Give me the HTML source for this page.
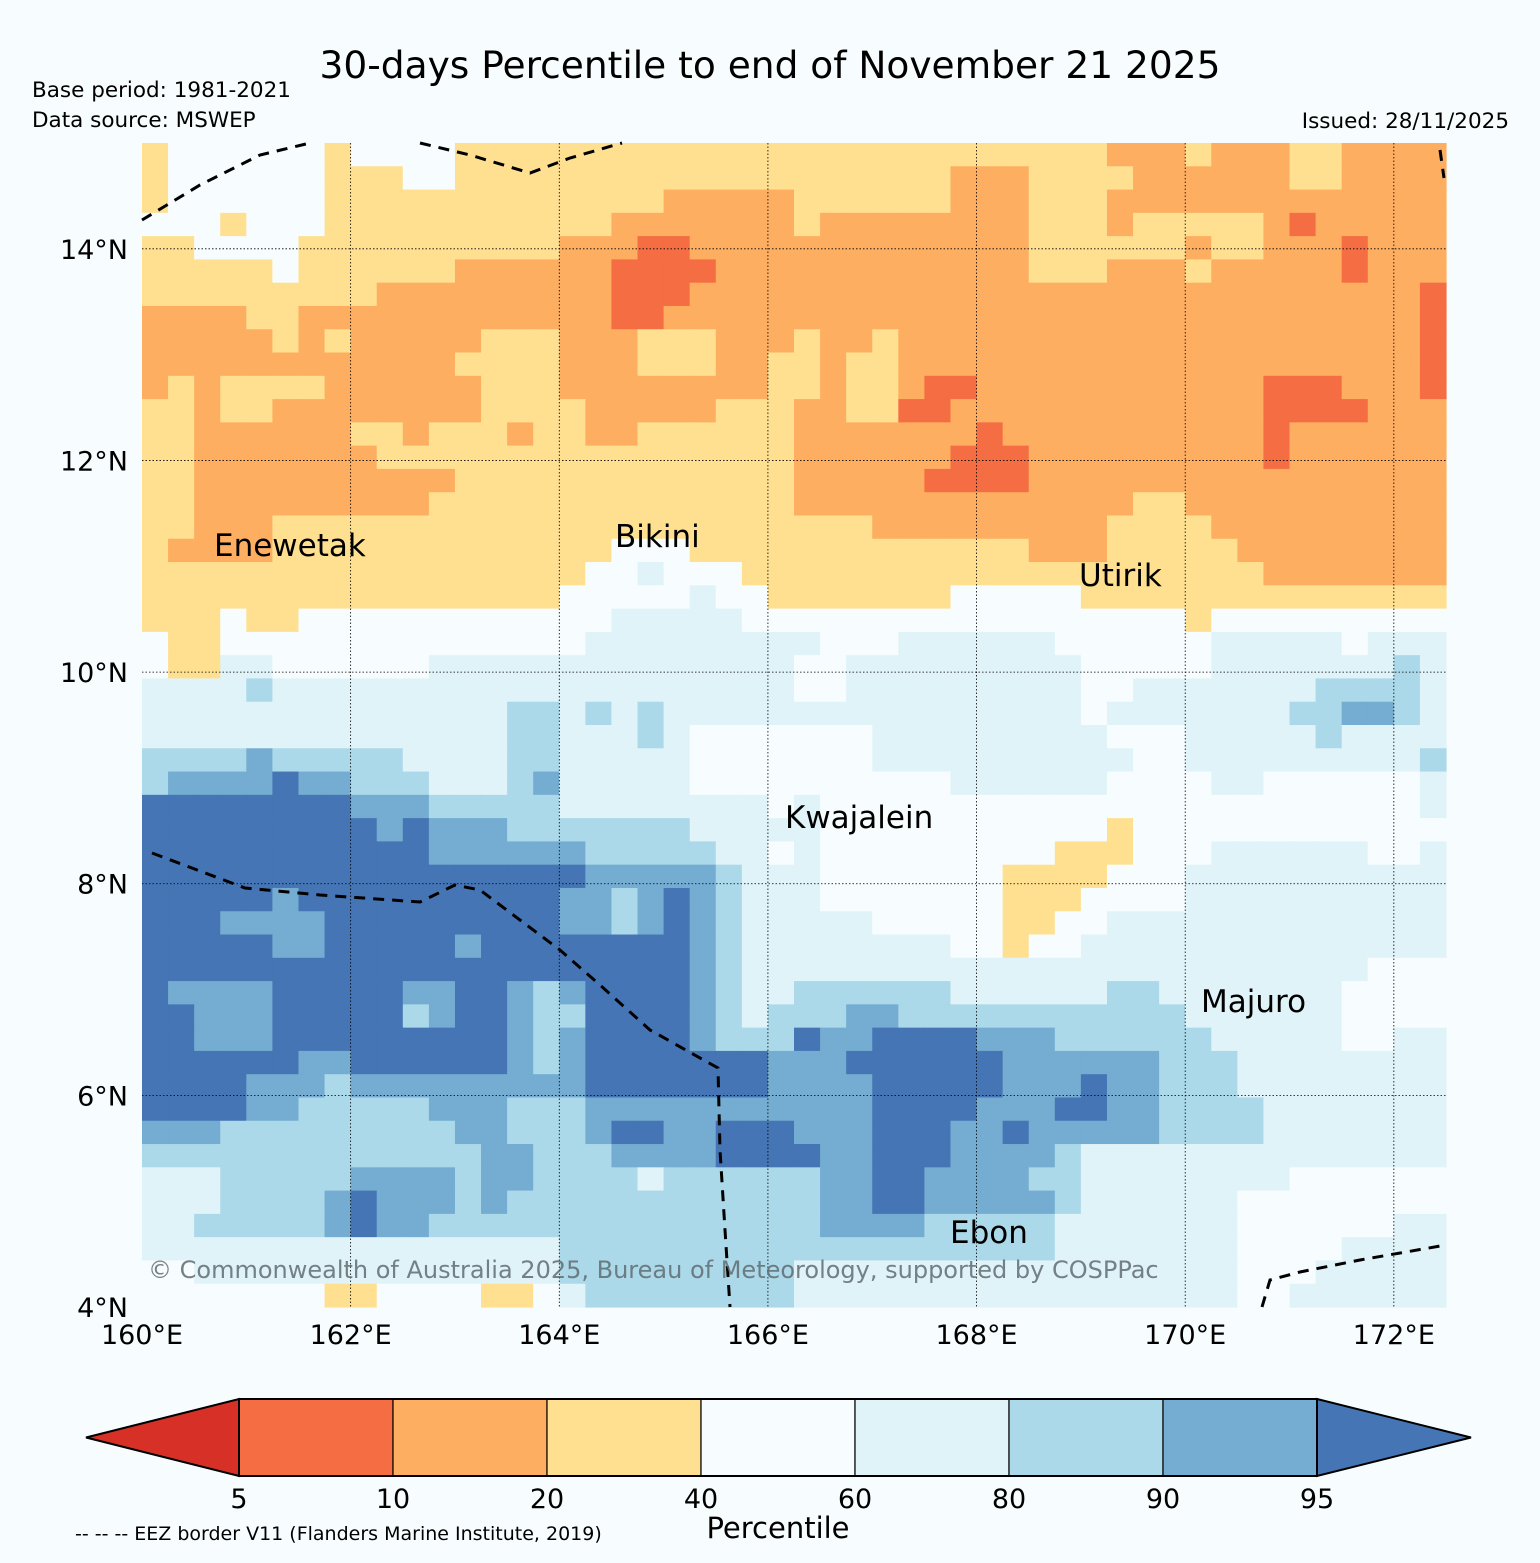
<!DOCTYPE html>
<html><head><meta charset="utf-8"><title>30-days Percentile</title>
<style>
html,body{margin:0;padding:0;background:#f7fdfe;}
svg{display:block;font-family:"DejaVu Sans","Liberation Sans",sans-serif;}
</style></head>
<body>
<svg id="chart" width="1540" height="1563" viewBox="0 0 1540 1563" xmlns="http://www.w3.org/2000/svg">
<rect x="0" y="0" width="1540" height="1563" fill="#f7fdfe"/>
<text x="770" y="78" text-anchor="middle" font-size="37.5" fill="#000">30-days Percentile to end of November 21 2025</text>
<text x="32" y="97" font-size="21.5" fill="#000">Base period: 1981-2021</text>
<text x="32" y="127" font-size="21.5" fill="#000">Data source: MSWEP</text>
<text x="1509" y="128" text-anchor="end" font-size="21.5" fill="#000">Issued: 28/11/2025</text>
<g id="cells"></g>
<g id="grid"></g>
<g id="eez" fill="none" stroke="#000" stroke-width="3" stroke-dasharray="11,8">
<polyline points="142,220 200,185 260,155 310,143"/>
<polyline points="420,143 470,155 530,173 570,158 622,143"/>
<polyline points="152,853 245,888 320,895 420,902 455,885 480,890 560,950 600,985 650,1030 718,1068 720,1150 725,1230 730,1307"/>
<polyline points="1262,1307 1270,1280 1300,1272 1360,1260 1446,1245"/>
<polyline points="1440,150 1444,178"/>
</g>
<g id="islands" font-size="31" fill="#000">
<text x="214" y="556">Enewetak</text>
<text x="615" y="547">Bikini</text>
<text x="1079" y="586">Utirik</text>
<text x="785" y="828">Kwajalein</text>
<text x="1201" y="1012">Majuro</text>
<text x="950" y="1243">Ebon</text>
</g>
<text x="148" y="1278" font-size="24" fill="#5f6b70" fill-opacity="0.85">© Commonwealth of Australia 2025, Bureau of Meteorology, supported by COSPPac</text>
<g id="ticks" font-size="27" fill="#000"></g>
<g id="cbar"></g>
<text x="778" y="1538" text-anchor="middle" font-size="29" fill="#000">Percentile</text>
<text x="75" y="1540" font-size="19" fill="#000">-- -- -- EEZ border V11 (Flanders Marine Institute, 2019)</text>
</svg>
<script>
// percentile class per grid cell (0:<5,1:5-10,2:10-20,3:20-40,4:40-60,5:60-80,6:80-90,7:90-95,8:>95)
var classRows = [
"3444444344443333333333333"+"3333333333332223222332222",
"3444444333443333333333333"+"3333332223333222222332222",
"3444444333333333333322222"+"3333332223332222222222222",
"4443444333333333332222222"+"3222222223332333332122222",
"3344443333333333222112222"+"2222222223333332332221222",
"3333343333332222221111222"+"2222222223332223222221222",
"3333333332222222221112222"+"2222222222222222222222221",
"2222332222222222221122222"+"2222222222222222222222221",
"2222232322222333222333222"+"3223222222222222222222221",
"2222222222223333222333223"+"3233222222222222222222221",
"2323333222222333222222223"+"3233211222222222221112221",
"3323322222222333322222333"+"2233112222222222221111222",
"3322222233233323322333333"+"2222222122222222221222222",
"3322222223333333333333333"+"2222221112222222221222222",
"3322222222223333333333333"+"2222211112222222222222222",
"3322222222233333333333333"+"2222222222222332222222222",
"3322233333333333333333333"+"3332222222223333222222222",
"3222233333333333334443333"+"3333333332223333322222222",
"3333333333333333344544433"+"3333333333333333332222222",
"3333333333333333444445443"+"3333334444433333333333333",
"3334334444444444445555544"+"4444444444444443444444444",
"4334444444444444455555555"+"5444555555444444555554555",
"4335544444455555555555555"+"4455555555544444555555565",
"5555655555555555555555555"+"4455555555544555555566665",
"5555555555555566565655555"+"5555555555545555555667765",
"5555555555555566555654444"+"4445555555554445555565555",
"6666766666555566555554444"+"4445555555555445555555556",
"6777787766655567555554444"+"4444445555554444554444445",
"8888888877766666555555554"+"5444444444444444444444445",
"8888888887877766666665555"+"5444444444443444444444444",
"8888888888877777766666554"+"5444444444333444555555445",
"8888888888888888877777655"+"5444444433334445555555555",
"8888878888888888776787655"+"5444444433344445555555555",
"8887777888888888776787655"+"5554444433445555555555555",
"8888877888887888888887655"+"5555554434455555555555555",
"8888888888888888888887655"+"5555555555555555555555444",
"8777788888778876788887655"+"6666665555556655555554444",
"8877788888678876688887656"+"6677666666666665555554444",
"8877788888888876788887666"+"8778888777666666555554455",
"8888887788888876788888887"+"7788888877777766655555555",
"8888777677777777788888887"+"7778888877787766655555555",
"8888776666677766677777777"+"7778888777887766665555555",
"7776666666667766678877888"+"7778887787777766665555555",
"6666666666666776667777888"+"8778887777655555555555555",
"5556666677776776666566666"+"6778877776655555555444444",
"5556666787776766666666666"+"6778877777655555544444444",
"5566666787766666666666666"+"6777766666555555544444455",
"5555555555555555666666666"+"6666666666555555544445555",
"4455555555555555666666666"+"5555555555555555544455555",
"4444444334444334566666666"+"5555555555555555544555555"
];
var classColors = ["#d73027","#f46d43","#fdae61","#fee090","#f7fdfe","#e0f3f8","#abd9e9","#74add1","#4575b4"];
var levelLabels = ["5","10","20","40","60","80","90","95"];
var lonTicks = [160,162,164,166,168,170,172];
var latTicks = [4,6,8,10,12,14];
var gridLons = [162,164,166,168,170,172];
var gridLats = [6,8,10,12,14];

var NS = "http://www.w3.org/2000/svg";
var X0 = 142, X1 = 1446, Y0 = 143, Y1 = 1307;
function lonToX(lon){ return X0 + (lon - 160) * (X1 - X0) / 12.5; }
function latToY(lat){ return Y0 + (15 - lat) * (Y1 - Y0) / 11; }

var cells = document.getElementById("cells");
var nR = classRows.length, nC = classRows[0].length;
var cw = (X1 - X0) / nC, ch = (Y1 - Y0) / nR;
for (var r = 0; r < nR; r++) {
  for (var c = 0; c < nC; c++) {
    var k = parseInt(classRows[r].charAt(c), 10);
    var rc = document.createElementNS(NS, "rect");
    rc.setAttribute("x", (X0 + c * cw).toFixed(2));
    rc.setAttribute("y", (Y0 + r * ch).toFixed(2));
    rc.setAttribute("width", (cw + 0.6).toFixed(2));
    rc.setAttribute("height", (ch + 0.6).toFixed(2));
    rc.setAttribute("fill", classColors[k]);
    
    
    cells.appendChild(rc);
  }
}

var grid = document.getElementById("grid");
gridLons.forEach(function(lon){
  var l = document.createElementNS(NS, "line");
  var x = lonToX(lon);
  l.setAttribute("x1", x); l.setAttribute("x2", x);
  l.setAttribute("y1", Y0); l.setAttribute("y2", Y1);
  l.setAttribute("stroke", "#000"); l.setAttribute("stroke-width", "0.8");
  l.setAttribute("stroke-dasharray", "1.5,2");
  
  
  grid.appendChild(l);
});
gridLats.forEach(function(lat){
  var l = document.createElementNS(NS, "line");
  var y = latToY(lat);
  l.setAttribute("x1", X0); l.setAttribute("x2", X1);
  l.setAttribute("y1", y); l.setAttribute("y2", y);
  l.setAttribute("stroke", "#000"); l.setAttribute("stroke-width", "0.8");
  l.setAttribute("stroke-dasharray", "1.5,2");
  
  
  grid.appendChild(l);
});

var ticks = document.getElementById("ticks");
lonTicks.forEach(function(lon){
  var t = document.createElementNS(NS, "text");
  t.setAttribute("x", lonToX(lon));
  t.setAttribute("y", 1344);
  t.setAttribute("text-anchor", "middle");
  t.textContent = lon + "°E";
  
  
  ticks.appendChild(t);
});
latTicks.forEach(function(lat){
  var t = document.createElementNS(NS, "text");
  t.setAttribute("x", 128);
  t.setAttribute("y", latToY(lat) + 10);
  t.setAttribute("text-anchor", "end");
  t.textContent = lat + "°N";
  
  
  ticks.appendChild(t);
});

var cbar = document.getElementById("cbar");
var cbL = 239, cbW = 154, cbT = 1399, cbB = 1476, cbM = 1437.5;
var tri = document.createElementNS(NS, "polygon");
tri.setAttribute("points", "86," + cbM + " " + cbL + "," + cbT + " " + cbL + "," + cbB);
tri.setAttribute("fill", classColors[0]); tri.setAttribute("stroke", "#000"); tri.setAttribute("stroke-width", "2");


cbar.appendChild(tri);
for (var i = 1; i <= 7; i++) {
  var b = document.createElementNS(NS, "rect");
  b.setAttribute("x", cbL + (i - 1) * cbW); b.setAttribute("y", cbT);
  b.setAttribute("width", cbW); b.setAttribute("height", cbB - cbT);
  b.setAttribute("fill", classColors[i]); b.setAttribute("stroke", "#000"); b.setAttribute("stroke-width", "1.2");
  
  
  cbar.appendChild(b);
}
var endX = cbL + 7 * cbW;
var tri2 = document.createElementNS(NS, "polygon");
tri2.setAttribute("points", endX + "," + cbT + " 1471," + cbM + " " + endX + "," + cbB);
tri2.setAttribute("fill", classColors[8]); tri2.setAttribute("stroke", "#000"); tri2.setAttribute("stroke-width", "2");


cbar.appendChild(tri2);
var frame = document.createElementNS(NS, "rect");
frame.setAttribute("x", cbL); frame.setAttribute("y", cbT);
frame.setAttribute("width", 7 * cbW); frame.setAttribute("height", cbB - cbT);
frame.setAttribute("fill", "none"); frame.setAttribute("stroke", "#000"); frame.setAttribute("stroke-width", "2");


cbar.appendChild(frame);
levelLabels.forEach(function(lbl, i){
  var t = document.createElementNS(NS, "text");
  t.setAttribute("x", cbL + i * cbW); t.setAttribute("y", 1508);
  t.setAttribute("text-anchor", "middle"); t.setAttribute("font-size", "27");
  t.textContent = lbl;
  
  
  cbar.appendChild(t);
});
</script>
</body></html>
